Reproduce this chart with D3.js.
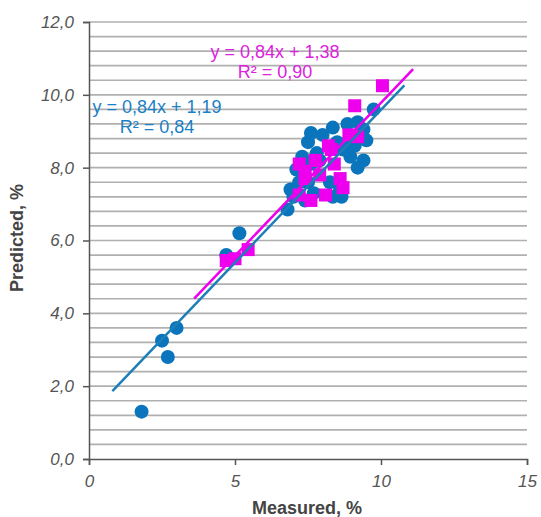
<!DOCTYPE html>
<html>
<head>
<meta charset="utf-8">
<script src="https://cdn.jsdelivr.net/npm/d3@7"></script>
<style>
body { margin:0; background:#fff; }
svg { font-family: "Liberation Sans", Arial, sans-serif; }
</style>
</head>
<body>
<div class="canva"></div>
<script>
// data
const blueX = [1.8, 2.5, 2.7, 3.0, 4.7, 5.15, 6.8, 6.9, 7.1, 7.3, 7.5, 7.6, 7.8, 7.5, 8.35, 8.85, 9.2, 9.4, 9.5, 9.75,
               8.95, 9.4, 9.2, 8.25, 8.6, 8.35, 8.65, 7.0, 7.2, 7.7, 8.0, 8.5, 9.0, 7.4, 7.9, 8.7, 9.1, 7.6];
const blueY = [1.3, 3.25, 2.8, 3.6, 5.6, 6.2, 6.85, 7.4, 7.95, 8.3, 8.7, 8.95, 8.4, 7.6, 9.1, 9.2, 9.25, 9.05, 8.75, 9.6,
               8.3, 8.2, 8.0, 7.6, 7.4, 7.2, 7.2, 7.2, 7.6, 7.3, 8.9, 8.7, 8.7, 7.1, 8.2, 8.5, 8.6, 8.1];
const magX = [4.7, 5.0, 5.45, 7.2, 7.4, 7.2, 7.9, 8.4, 8.6, 8.1, 7.6, 8.7, 7.75, 8.2, 8.9, 9.2, 9.1, 10.05, 7.4, 8.3];
const magY = [5.45, 5.5, 5.75, 8.1, 7.7, 7.25, 7.8, 8.1, 7.7, 7.25, 7.1, 7.45, 8.2, 8.6, 8.9, 8.85, 9.7, 10.25, 7.9, 8.5];

const xTicks = [0, 5, 10, 15];
const yTicks = [0, 2, 4, 6, 8, 10, 12];
// trend lines y = a*x + b, drawn over the given x range
const trendBlue = {a: 0.84, b: 1.19, x0: 0.8, x1: 10.8, label: ['y = 0,84x + 1,19', 'R² = 0,84']};
const trendMag = {a: 0.84, b: 1.38, x0: 3.6, x1: 11.1, label: ['y = 0,84x + 1,38', 'R² = 0,90']};

const blue = '#0a75bd';
const magenta = '#ee00ee';

const svg = d3.select('.canva').append('svg')
  .attr('width', 541)
  .attr('height', 517);

const x = d3.scaleLinear().domain([0, 15]).range([89, 527]);
const y = d3.scaleLinear().domain([0, 12]).range([459, 22]);

// gridlines every 0.4
const grid = d3.range(1, 31).map(i => i * 0.4);
svg.append('g').selectAll('line')
  .data(grid)
  .enter().append('line')
  .attr('x1', x(0)).attr('x2', x(15))
  .attr('y1', d => y(d)).attr('y2', d => y(d))
  .attr('stroke', '#b0b0b0')
  .attr('stroke-width', 1.7);

// axes
const xAxis = svg.append('g')
  .attr('transform', `translate(0,${y(0)})`)
  .call(d3.axisBottom(x).tickValues(xTicks).tickSize(6).tickFormat(d => d));
const yAxis = svg.append('g')
  .attr('transform', `translate(${x(0)},0)`)
  .call(d3.axisLeft(y).tickValues(yTicks).tickSize(6).tickFormat(d => d3.format('.1f')(d).replace('.', ',')));

[xAxis, yAxis].forEach(ax => {
  ax.select('.domain').attr('stroke', '#555').attr('stroke-width', 1.5);
  ax.selectAll('.tick line').attr('stroke', '#555').attr('stroke-width', 1.5);
  ax.selectAll('.tick text')
    .attr('fill', '#555')
    .style('font-size', '17px')
    .style('font-style', 'italic')
    .style('font-family', '"Liberation Sans", Arial, sans-serif');
});
xAxis.selectAll('.tick text').attr('dy', '1.1em');
yAxis.selectAll('.tick text').attr('x', -15);

// axis titles
svg.append('text')
  .attr('x', 307).attr('y', 514)
  .attr('text-anchor', 'middle')
  .attr('fill', '#444')
  .style('font-size', '18px')
  .style('font-weight', 'bold')
  .text('Measured, %');
svg.append('text')
  .attr('transform', 'translate(23,238) rotate(-90)')
  .attr('text-anchor', 'middle')
  .attr('fill', '#444')
  .style('font-size', '18px')
  .style('font-weight', 'bold')
  .text('Predicted, %');

// blue points
svg.append('g').selectAll('circle')
  .data(blueX)
  .enter().append('circle')
  .attr('cx', d => x(d))
  .attr('cy', (d, i) => y(blueY[i]))
  .attr('r', 7)
  .attr('fill', blue);

// magenta squares
svg.append('g').selectAll('rect')
  .data(magX)
  .enter().append('rect')
  .attr('x', d => x(d) - 6.5)
  .attr('y', (d, i) => y(magY[i]) - 6.5)
  .attr('width', 13)
  .attr('height', 13)
  .attr('fill', magenta);

// trend lines
[[trendMag, magenta], [trendBlue, '#1c7fb8']].forEach(([t, c]) => {
  svg.append('line')
    .attr('x1', x(t.x0)).attr('y1', y(t.a * t.x0 + t.b))
    .attr('x2', x(t.x1)).attr('y2', y(t.a * t.x1 + t.b))
    .attr('stroke', c)
    .attr('stroke-width', 2.5);
});

// equations
function label(t, cx, cy, c) {
  svg.append('g').selectAll('text')
    .data(t.label)
    .enter().append('text')
    .attr('x', cx)
    .attr('y', (d, i) => cy + i * 20)
    .attr('text-anchor', 'middle')
    .attr('fill', c)
    .style('font-size', '18px')
    .text(d => d);
}
label(trendBlue, 157, 113, '#1a80c4');
label(trendMag, 275, 58, '#dd22dd');
</script>
</body>
</html>
